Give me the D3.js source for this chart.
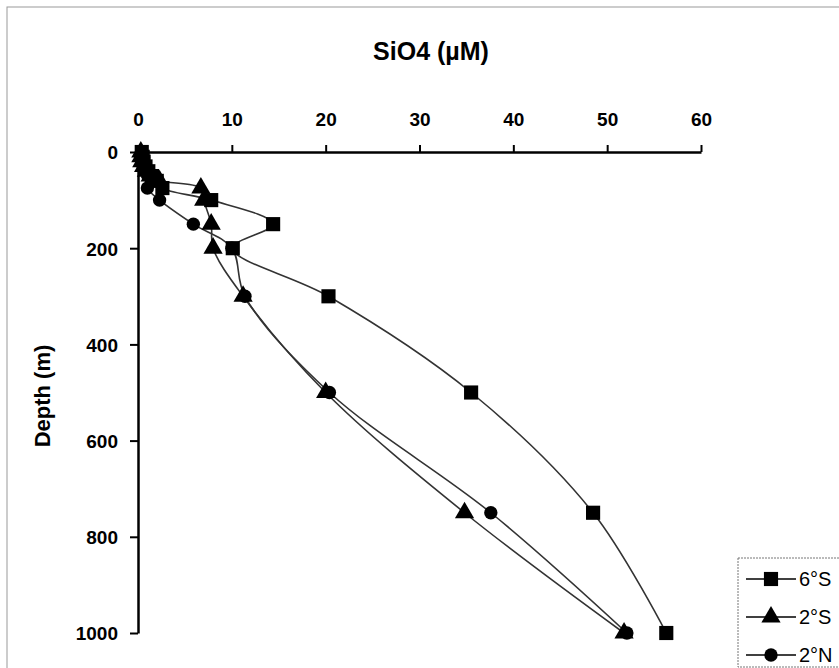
<!DOCTYPE html>
<html>
<head>
<meta charset="utf-8">
<script src="https://cdn.jsdelivr.net/npm/d3@7"></script>
<style>
  body { margin: 0; background: #fff; }
  svg { display: block; font-family: "Liberation Sans", Arial, sans-serif; }
</style>
</head>
<body>
<div id="chart"></div>
<script>
// SiO4 profiles (depth in m, SiO4 in uM)
let depths6S = [0, 10, 20, 30, 40, 50, 60, 75, 100, 150, 200, 300, 500, 750, 1000];
let sio6S    = [0.4, 0.5, 0.6, 0.8, 1.1, 1.5, 2.0, 2.6, 7.8, 14.4, 10.1, 20.3, 35.5, 48.5, 56.3];

let depths2S = [0, 10, 20, 30, 40, 50, 60, 75, 100, 150, 200, 300, 500, 750, 1000];
let sio2S    = [0.3, 0.3, 0.4, 0.6, 0.9, 1.3, 2.3, 6.7, 7.0, 7.8, 8.0, 11.2, 20.0, 34.8, 51.8];

let depths2N = [0, 10, 20, 30, 40, 50, 75, 100, 150, 200, 300, 500, 750, 1000];
let sio2N    = [0.4, 0.4, 0.5, 0.7, 0.9, 1.1, 1.0, 2.3, 5.9, 10.0, 11.4, 20.4, 37.6, 52.1];

let seriesNames = ["6°S", "2°S", "2°N"];
let xTicks = [0, 10, 20, 30, 40, 50, 60];
let yTicks = [0, 200, 400, 600, 800, 1000];

let series = [
    { name: seriesNames[0], symbol: d3.symbolSquare, size: 200, depths: depths6S, vals: sio6S },
    { name: seriesNames[1], symbol: d3.symbolTriangle, size: 160, depths: depths2S, vals: sio2S },
    { name: seriesNames[2], symbol: d3.symbolCircle, size: 140, depths: depths2N, vals: sio2N }
];

let width = 839, height = 668;
let svg = d3.select("#chart").append("svg")
            .attr("width", width)
            .attr("height", height);

// outer frame
svg.append("rect")
    .attr("x", 7).attr("y", 7)
    .attr("width", width).attr("height", height)
    .attr("fill", "none")
    .attr("stroke", "#999")
    .attr("stroke-width", 1);

let x = d3.scaleLinear().domain([0, 60]).range([138, 701]);
let y = d3.scaleLinear().domain([0, 1000]).range([152, 633]);

// title
svg.append("text")
    .attr("x", 431).attr("y", 60)
    .attr("text-anchor", "middle")
    .attr("font-size", "25px")
    .attr("font-weight", "bold")
    .text("SiO4 (µM)");

// y label
svg.append("text")
    .attr("transform", "translate(50,396) rotate(-90)")
    .attr("text-anchor", "middle")
    .attr("font-size", "22px")
    .attr("font-weight", "bold")
    .text("Depth (m)");

// x axis on top
let xAxis = svg.append("g")
    .attr("transform", `translate(0,${y(0)})`)
    .call(d3.axisTop(x).tickValues(xTicks).tickSize(7).tickSizeOuter(0).tickPadding(19));

// y axis
let yAxis = svg.append("g")
    .attr("transform", `translate(${x(0)},0)`)
    .call(d3.axisLeft(y).tickValues(yTicks).tickFormat(d3.format("d")).tickSize(8).tickSizeOuter(0).tickPadding(12));

[xAxis, yAxis].forEach(g => {
    g.select(".domain").attr("stroke", "#000").attr("stroke-width", 2.5);
    g.selectAll(".tick line").attr("stroke", "#000").attr("stroke-width", 2);
    g.selectAll(".tick text")
        .attr("font-family", "'Liberation Sans', Arial, sans-serif")
        .attr("font-size", "19px")
        .attr("font-weight", "bold")
        .attr("fill", "#000");
});
yAxis.selectAll(".tick text").attr("dy", "0.36em");

let line = d3.line()
    .x(d => x(d[1]))
    .y(d => y(d[0]))
    .curve(d3.curveCatmullRom.alpha(0.5));

series.forEach(s => {
    let pts = s.depths.map((dp, i) => [dp, s.vals[i]]);
    svg.append("path")
        .datum(pts)
        .attr("d", line)
        .attr("fill", "none")
        .attr("stroke", "#333")
        .attr("stroke-width", 1.6);
});

series.forEach(s => {
    let pts = s.depths.map((dp, i) => [dp, s.vals[i]]);
    svg.selectAll(null)
        .data(pts)
        .enter()
        .append("path")
        .attr("d", d3.symbol().type(s.symbol).size(s.size))
        .attr("transform", d => `translate(${x(d[1])},${y(d[0])})`)
        .attr("fill", "#000");
});

// legend
let legend = svg.append("g");
legend.append("rect")
    .attr("x", 738).attr("y", 558)
    .attr("width", 120).attr("height", 109)
    .attr("fill", "#fff")
    .attr("stroke", "#777")
    .attr("stroke-width", 1)
    .attr("stroke-dasharray", "2,1");

series.forEach((s, i) => {
    let ly = 579 + i * 38;
    legend.append("line")
        .attr("x1", 746).attr("x2", 796)
        .attr("y1", ly).attr("y2", ly)
        .attr("stroke", "#000")
        .attr("stroke-width", 1.6);
    legend.append("path")
        .attr("d", d3.symbol().type(s.symbol).size(s.size))
        .attr("transform", `translate(771,${ly})`)
        .attr("fill", "#000");
    legend.append("text")
        .attr("x", 799).attr("y", ly + 7)
        .attr("font-size", "20px")
        .text(s.name);
});
</script>
</body>
</html>
